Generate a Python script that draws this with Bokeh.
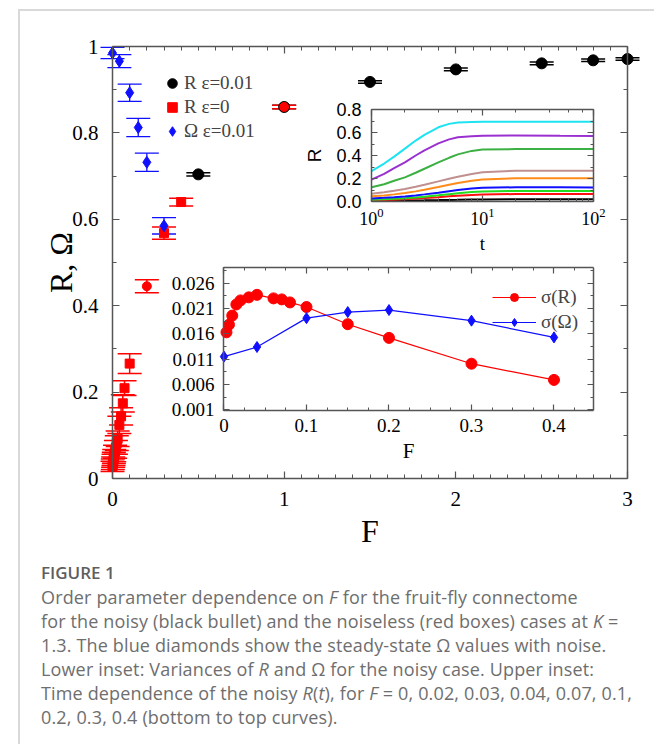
from bokeh.plotting import figure
from bokeh.models import (Range1d, LinearAxis, LogAxis, LogTicker, SingleIntervalTicker,
                          FixedTicker, Whisker, TeeHead, ColumnDataSource, Legend,
                          LegendItem, Div, Column, CustomJSTickFormatter, BasicTickFormatter)
from bokeh.embed import file_html
from bokeh.resources import INLINE

# ---------------- data ----------------
# main panel: R with noise (eps=0.01)
F_noisy = [0.5, 1.0, 1.5, 2.0, 2.5, 2.8, 3.0]
R_noisy = [0.704, 0.860, 0.918, 0.947, 0.961, 0.968, 0.971]
R_noisy_err = [0.004, 0.004, 0.003, 0.003, 0.003, 0.003, 0.003]

# main panel: R without noise (eps=0)
F_clean = [0.0, 0.002, 0.004, 0.006, 0.008, 0.01, 0.015, 0.02, 0.025, 0.03,
           0.04, 0.05, 0.06, 0.07, 0.1, 0.2, 0.3, 0.4, 1.0]
R_clean = [0.028, 0.033, 0.038, 0.043, 0.048, 0.053, 0.062, 0.072, 0.082, 0.092,
           0.124, 0.144, 0.174, 0.209, 0.266, 0.445, 0.568, 0.640, 0.860]
R_clean_err = [0.012, 0.012, 0.012, 0.013, 0.013, 0.014, 0.015, 0.016, 0.017, 0.018,
               0.020, 0.020, 0.020, 0.017, 0.023, 0.015, 0.014, 0.009, 0.004]
R_clean_marker = ["square"] * 15 + ["circle", "square", "square", "circle"]

# main panel: Omega with noise
F_omega = [0.0, 0.04, 0.1, 0.15, 0.2, 0.3]
Omega = [0.985, 0.966, 0.893, 0.8125, 0.732, 0.585]
Omega_err = [0.013, 0.015, 0.020, 0.021, 0.021, 0.019]

# upper inset: R(t)
t_samples = [1, 1.3, 1.6, 2, 2.5, 3, 4, 5, 6, 8, 10, 20, 50, 100]
curve_F = ["0", "0.02", "0.03", "0.04", "0.07", "0.1", "0.2", "0.3", "0.4"]
R_t_F000 = [0.004, 0.005, 0.006, 0.007, 0.009, 0.010, 0.012, 0.014, 0.015, 0.017, 0.018, 0.020, 0.020, 0.020]
R_t_F002 = [0.010, 0.013, 0.016, 0.020, 0.025, 0.030, 0.038, 0.045, 0.050, 0.057, 0.061, 0.065, 0.065, 0.065]
R_t_F003 = [0.015, 0.019, 0.023, 0.028, 0.035, 0.042, 0.054, 0.064, 0.072, 0.082, 0.088, 0.092, 0.092, 0.091]
R_t_F004 = [0.027, 0.032, 0.037, 0.044, 0.053, 0.062, 0.077, 0.090, 0.100, 0.112, 0.119, 0.124, 0.123, 0.122]
R_t_F007 = [0.045, 0.053, 0.062, 0.073, 0.088, 0.102, 0.126, 0.145, 0.160, 0.180, 0.192, 0.202, 0.203, 0.203]
R_t_F010 = [0.068, 0.080, 0.093, 0.108, 0.128, 0.146, 0.175, 0.198, 0.215, 0.240, 0.255, 0.267, 0.268, 0.268]
R_t_F020 = [0.124, 0.150, 0.180, 0.210, 0.250, 0.285, 0.340, 0.380, 0.410, 0.440, 0.452, 0.456, 0.456, 0.456]
R_t_F030 = [0.190, 0.240, 0.290, 0.340, 0.400, 0.445, 0.505, 0.540, 0.558, 0.568, 0.572, 0.574, 0.571, 0.570]
R_t_F040 = [0.265, 0.330, 0.390, 0.460, 0.530, 0.580, 0.645, 0.675, 0.686, 0.692, 0.694, 0.694, 0.693, 0.693]
curve_colors = ["#000000", "#ff1010", "#22dd22", "#1010ff", "#ff8c1a",
                "#c09090", "#3cb043", "#9b30d0", "#1ee3f0"]

# lower inset: sigma(R), sigma(Omega)
F_sigR = [0.003, 0.006, 0.01, 0.015, 0.02, 0.03, 0.04, 0.06, 0.07, 0.08, 0.1, 0.15, 0.2, 0.3, 0.4]
sigma_R = [0.0163, 0.0178, 0.0196, 0.0218, 0.0226, 0.0232, 0.0237, 0.0230, 0.0228, 0.0222,
           0.0213, 0.0179, 0.0152, 0.0101, 0.0069]
F_sigO = [0.0, 0.04, 0.1, 0.15, 0.2, 0.3, 0.4]
sigma_O = [0.0115, 0.0134, 0.0191, 0.0203, 0.0207, 0.0186, 0.0153]
sigma_ticks = [0.001, 0.006, 0.011, 0.016, 0.021, 0.026]

# ---------------- styling helpers ----------------
AXC = "#555555"
SERIF = "Liberation Serif"
SANS = "Liberation Sans"
ABS = {"position": "absolute", "left": "8px", "top": "8px"}
W, H = 638, 735


def style_axis(a, font, size, major=7, minor=4, show=True, standoff=12):
    a.axis_line_color = AXC
    a.axis_line_width = 1.5
    a.major_tick_line_color = AXC
    a.minor_tick_line_color = AXC
    a.major_tick_line_width = 1.2
    a.minor_tick_line_width = 1
    a.major_tick_in = major
    a.major_tick_out = 0
    a.minor_tick_in = minor
    a.minor_tick_out = 0
    a.major_label_text_font = font
    a.major_label_text_font_size = size
    a.major_label_text_color = "black"
    a.major_label_standoff = standoff if show else 0
    a.axis_label_text_font = font
    a.axis_label_text_font_style = "normal"
    a.axis_label_text_color = "black"
    if not show:
        a.formatter = CustomJSTickFormatter(code="return ''")


def make_fig(fl, ft, fw, fh, **kw):
    p = figure(width=W, height=H, min_border_left=fl, min_border_top=ft,
               min_border_right=W - fl - fw, min_border_bottom=H - ft - fh,
               toolbar_location=None, output_backend="svg", outline_line_color=None,
               border_fill_alpha=0, styles=ABS, frame_align=False, **kw)
    p.xgrid.visible = False
    p.ygrid.visible = False
    return p


def whisk(p, xs, ys, errs, color, cap=24, lw=1.5):
    src = ColumnDataSource(dict(x=xs, lo=[y - e for y, e in zip(ys, errs)],
                                hi=[y + e for y, e in zip(ys, errs)]))
    p.add_layout(Whisker(source=src, base="x", lower="lo", upper="hi", dimension="height",
                         line_color=color, line_width=lw,
                         lower_head=TeeHead(size=cap, line_color=color, line_width=lw),
                         upper_head=TeeHead(size=cap, line_color=color, line_width=lw)))


# ---------------- main panel (data layer, padded so nothing is clipped) ----------------
MX0, MX1, MY0, MY1 = 0.0, 3.0, 0.0, 1.0
MFL, MFT, MFW, MFH = 104, 38, 515, 432
XS = MFW / (MX1 - MX0)
YS = MFH / (MY1 - MY0)
PL, PR, PT, PB = 24, 16, 12, 12

md = make_fig(MFL - PL, MFT - PT, MFW + PL + PR, MFH + PT + PB,
              x_range=Range1d(MX0 - PL / XS, MX1 + PR / XS),
              y_range=Range1d(MY0 - PB / YS, MY1 + PT / YS),
              x_axis_location=None, y_axis_location=None, background_fill_alpha=0)

whisk(md, F_noisy, R_noisy, R_noisy_err, "black")
r_black = md.scatter(F_noisy, R_noisy, marker="circle", size=11, color="black")

whisk(md, F_clean, R_clean, R_clean_err, "#ff0000")
src_red = ColumnDataSource(dict(x=F_clean, y=R_clean, m=R_clean_marker))
r_red = md.scatter("x", "y", marker="m", source=src_red, size=9, fill_color="#ff0000",
                   line_color="#ff0000")

whisk(md, F_omega, Omega, Omega_err, "#1010ff", lw=1.3)
r_blue = md.scatter(F_omega, Omega, marker="diamond", size=12, color="#1010ff")

leg = Legend(items=[LegendItem(label="R ε=0.01", renderers=[r_black]),
                    LegendItem(label="R ε=0", renderers=[r_red], index=0),
                    LegendItem(label="Ω ε=0.01", renderers=[r_blue])],
             location=(72, 347), background_fill_alpha=0, border_line_alpha=0,
             padding=0, margin=0, spacing=0, glyph_width=24, glyph_height=24,
             label_height=20, label_standoff=0, label_text_font=SERIF,
             label_text_font_size="19px")
md.add_layout(leg)

# ---------------- main panel (axes layer) ----------------
ma = make_fig(MFL, MFT, MFW, MFH, x_range=Range1d(MX0, MX1), y_range=Range1d(MY0, MY1),
              x_axis_label="F", y_axis_label="R, Ω", background_fill_alpha=0)
mxt = SingleIntervalTicker(interval=1, num_minor_ticks=10)
myt = SingleIntervalTicker(interval=0.2, num_minor_ticks=2)
ma.xaxis.ticker = mxt
ma.yaxis.ticker = myt
style_axis(ma.xaxis[0], SERIF, "21px", standoff=13)
style_axis(ma.yaxis[0], SERIF, "21px", standoff=14)
ma.yaxis[0].major_label_overrides = {0: "0", 1: "1"}
ma.xaxis[0].axis_label_text_font_size = "32px"
ma.yaxis[0].axis_label_text_font_size = "32px"
ma.xaxis[0].axis_label_standoff = 4
ma.yaxis[0].axis_label_standoff = -10
top_ax = LinearAxis(ticker=mxt)
style_axis(top_ax, SERIF, "21px", show=False)
ma.add_layout(top_ax, "above")
right_ax = LinearAxis(ticker=myt)
style_axis(right_ax, SERIF, "21px", show=False)
ma.add_layout(right_ax, "right")

# ---------------- upper inset ----------------
UFL, UFT, UFW, UFH = 363, 101, 222, 92
up = make_fig(UFL, UFT, UFW, UFH, x_axis_type="log", x_range=Range1d(1, 100),
              y_range=Range1d(0, 0.8), x_axis_label="t", y_axis_label="R",
              background_fill_color="white")
uyt = SingleIntervalTicker(interval=0.2, num_minor_ticks=2)
up.yaxis.ticker = uyt
style_axis(up.xaxis[0], SERIF, "18px", major=6, minor=3, standoff=6)
style_axis(up.yaxis[0], SANS, "18px", major=6, minor=3, standoff=10)
up.yaxis[0].formatter = BasicTickFormatter(precision=1, use_scientific=False)
up.yaxis[0].major_label_overrides = {0: "0.0"}
up.xaxis[0].axis_label_text_font_size = "19px"
up.yaxis[0].axis_label_text_font_size = "19px"
up.xaxis[0].axis_label_standoff = 5
up.yaxis[0].axis_label_standoff = 8
u_top = LogAxis(ticker=LogTicker())
style_axis(u_top, SERIF, "17px", major=6, minor=3, show=False)
up.add_layout(u_top, "above")
u_right = LinearAxis(ticker=uyt)
style_axis(u_right, SANS, "18px", major=6, minor=3, show=False)
up.add_layout(u_right, "right")
curves = [R_t_F000, R_t_F002, R_t_F003, R_t_F004, R_t_F007, R_t_F010, R_t_F020, R_t_F030, R_t_F040]
for vals, col in zip(curves, curve_colors):
    up.line(t_samples, vals, line_color=col, line_width=2)

# ---------------- lower inset (data layer) ----------------
LFL, LFT, LFW, LFH = 215, 259, 370, 143
LX0 = -0.0006
LXS = 825.0
LY0 = 0.00086
LYS = 5064.0
LX1 = LX0 + LFW / LXS
LY1 = LY0 + LFH / LYS
LP = 10
ld = make_fig(LFL - LP, LFT - LP, LFW + 2 * LP, LFH + 2 * LP,
              x_range=Range1d(LX0 - LP / LXS, LX1 + LP / LXS),
              y_range=Range1d(LY0 - LP / LYS, LY1 + LP / LYS),
              x_axis_location=None, y_axis_location=None, background_fill_color="white")
lr_line = ld.line(F_sigR, sigma_R, line_color="#ff0000", line_width=1.2)
lr_pts = ld.scatter(F_sigR, sigma_R, marker="circle", size=11, color="#ff0000")
lb_line = ld.line(F_sigO, sigma_O, line_color="#1010ff", line_width=1.2)
lb_pts = ld.scatter(F_sigO, sigma_O, marker="diamond", size=11, color="#1010ff")
leg2 = Legend(items=[LegendItem(label="σ(R)", renderers=[lr_line, lr_pts]),
                     LegendItem(label="σ(Ω)", renderers=[lb_line, lb_pts])],
              location=(279, 87), background_fill_alpha=0, border_line_alpha=0,
              padding=0, margin=0, spacing=3, glyph_width=44, glyph_height=20,
              label_height=20, label_standoff=5, label_text_font=SERIF,
              label_text_font_size="19px")
ld.add_layout(leg2)

# ---------------- lower inset (axes layer) ----------------
la = make_fig(LFL, LFT, LFW, LFH, x_range=Range1d(LX0, LX1), y_range=Range1d(LY0, LY1),
              x_axis_label="F", background_fill_alpha=0)
lxt = SingleIntervalTicker(interval=0.1, num_minor_ticks=4)
lyt = FixedTicker(ticks=sigma_ticks, minor_ticks=[a + 0.0025 for a in sigma_ticks])
la.xaxis.ticker = lxt
la.yaxis.ticker = lyt
style_axis(la.xaxis[0], SERIF, "19px", major=6, minor=3, standoff=8)
style_axis(la.yaxis[0], SERIF, "19px", major=6, minor=3, standoff=9)
la.yaxis[0].formatter = BasicTickFormatter(precision=3, use_scientific=False)
la.xaxis[0].formatter = BasicTickFormatter(precision=1, use_scientific=False)
la.xaxis[0].major_label_overrides = {0: "0"}
la.xaxis[0].axis_label_text_font_size = "21px"
la.xaxis[0].axis_label_standoff = 4
l_top = LinearAxis(ticker=lxt)
style_axis(l_top, SERIF, "19px", major=6, minor=3, show=False)
la.add_layout(l_top, "above")
l_right = LinearAxis(ticker=lyt)
style_axis(l_right, SERIF, "19px", major=6, minor=3, show=False)
la.add_layout(l_right, "right")

# ---------------- caption and frame ----------------
caption_html = (
    '<div style="font-family:\'Open Sans\',Lato,sans-serif;color:#6e6e6e;font-size:18px;'
    'letter-spacing:0.15px;line-height:24px;white-space:nowrap;">'
    '<div style="font-weight:600;color:#5e5e5e;font-size:17px;letter-spacing:0;line-height:25px;">FIGURE 1</div>'
    'Order parameter dependence on <i>F</i> for the fruit-fly connectome<br>'
    'for the noisy (black bullet) and the noiseless (red boxes) cases at <i>K</i> =<br>'
    '1.3. The blue diamonds show the steady-state Ω values with noise.<br>'
    'Lower inset: Variances of <i>R</i> and Ω for the noisy case. Upper inset:<br>'
    'Time dependence of the noisy <i>R</i>(<i>t</i>), for <i>F</i> = 0, 0.02, 0.03, 0.04, 0.07, 0.1,<br>'
    '0.2, 0.3, 0.4 (bottom to top curves).'
    '</div>'
)
caption = Div(text=caption_html, width=612, height=175,
              styles={"position": "absolute", "left": "36px", "top": "555px"})
border = Div(text="", width=641, height=745,
             styles={"position": "absolute", "left": "13px", "top": "4px",
                     "border-left": "2px solid #d9d9d9", "border-top": "2px solid #d9d9d9",
                     "box-sizing": "border-box"})

root = Column(children=[md, ma, up, ld, la, caption, border], width=W, height=H,
              sizing_mode="fixed")

with open("out.html", "w") as fh:
    fh.write(file_html(root, INLINE))
